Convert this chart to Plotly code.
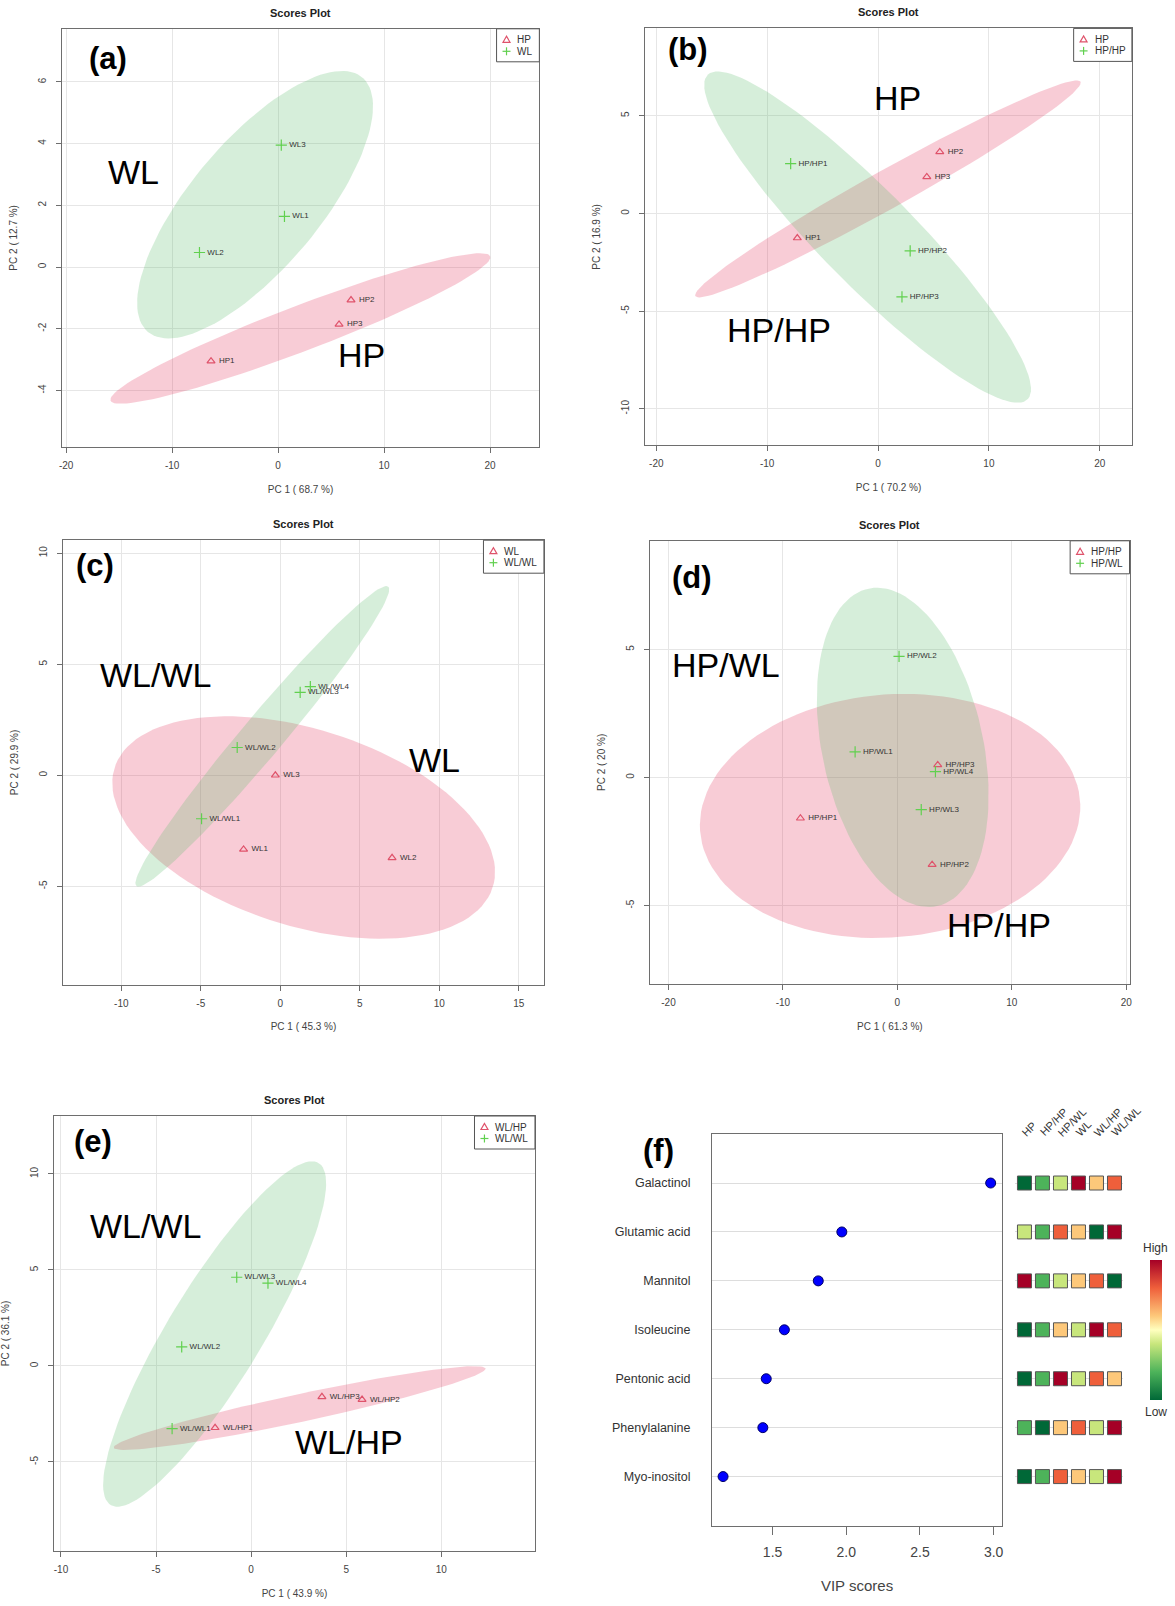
import numpy as np
import plotly.graph_objects as go

W, H = 1175, 1606
FONT = "Liberation Sans, Arial, sans-serif"

# ---------------- data ----------------
# (a) HP vs WL
A_PCT = (68.7, 12.7)
A_G1_NAME = "HP"
A_G1_LAB = ["HP1", "HP2", "HP3"]
A_G1_X = [-6.33, 6.88, 5.75]
A_G1_Y = [-3.05, -1.07, -1.86]
A_G2_NAME = "WL"
A_G2_LAB = ["WL1", "WL2", "WL3"]
A_G2_X = [0.60, -7.42, 0.30]
A_G2_Y = [1.64, 0.47, 3.95]

# (b) HP vs HP/HP
B_PCT = (70.2, 16.9)
B_G1_NAME = "HP"
B_G1_LAB = ["HP1", "HP2", "HP3"]
B_G1_X = [-7.28, 5.57, 4.40]
B_G1_Y = [-1.26, 3.15, 1.87]
B_G2_NAME = "HP/HP"
B_G2_LAB = ["HP/HP1", "HP/HP2", "HP/HP3"]
B_G2_X = [-7.88, 2.90, 2.16]
B_G2_Y = [2.55, -1.92, -4.27]

# (c) WL vs WL/WL
C_PCT = (45.3, 29.9)
C_G1_NAME = "WL"
C_G1_LAB = ["WL1", "WL2", "WL3"]
C_G1_X = [-2.31, 7.03, -0.31]
C_G1_Y = [-3.34, -3.72, 0.00]
C_G2_NAME = "WL/WL"
C_G2_LAB = ["WL/WL1", "WL/WL2", "WL/WL3", "WL/WL4"]
C_G2_X = [-4.95, -2.71, 1.25, 1.89]
C_G2_Y = [-1.96, 1.25, 3.73, 3.99]

# (d) HP/HP vs HP/WL
D_PCT = (61.3, 20)
D_G1_NAME = "HP/HP"
D_G1_LAB = ["HP/HP1", "HP/HP2", "HP/HP3"]
D_G1_X = [-8.47, 3.04, 3.53]
D_G1_Y = [-1.59, -3.40, 0.49]
D_G2_NAME = "HP/WL"
D_G2_LAB = ["HP/WL1", "HP/WL2", "HP/WL3", "HP/WL4"]
D_G2_X = [-3.69, 0.15, 2.09, 3.33]
D_G2_Y = [1.00, 4.73, -1.25, 0.23]

# (e) WL/HP vs WL/WL
E_PCT = (43.9, 36.1)
E_G1_NAME = "WL/HP"
E_G1_LAB = ["WL/HP1", "WL/HP2", "WL/HP3"]
E_G1_X = [-1.895, 5.835, 3.725]
E_G1_Y = [-3.22, -1.75, -1.61]
E_G2_NAME = "WL/WL"
E_G2_LAB = ["WL/WL1", "WL/WL2", "WL/WL3", "WL/WL4"]
E_G2_X = [-4.155, -3.65, -0.756, 0.887]
E_G2_Y = [-3.27, 0.99, 4.62, 4.31]

# (f) VIP scores + relative concentration heat strip
METABOLITES = ["Galactinol", "Glutamic acid", "Mannitol", "Isoleucine",
               "Pentonic acid", "Phenylalanine", "Myo-inositol"]
VIP = [2.98, 1.97, 1.81, 1.58, 1.457, 1.434, 1.164]
HM_GROUPS = ["HP", "HP/HP", "HP/WL", "WL", "WL/HP", "WL/WL"]
HM_LEVEL = [
    [1, 2, 3, 6, 4, 5],
    [3, 2, 5, 4, 1, 6],
    [6, 2, 3, 4, 5, 1],
    [1, 2, 4, 3, 6, 5],
    [1, 2, 6, 3, 5, 4],
    [2, 1, 4, 5, 3, 6],
    [1, 2, 5, 4, 3, 6],
]
VIP_TICKS = [1.5, 2.0, 2.5, 3.0]

# ---------------- helpers ----------------
def fx(px):
    return px / W

def fy(py):
    return 1 - py / H

def ellipse(xs, ys, level=0.95, n=120):
    pts = np.column_stack([xs, ys])
    mu = pts.mean(axis=0)
    cov = np.cov(pts.T)
    t = np.sqrt(-2 * np.log(1 - level))
    vals, vecs = np.linalg.eigh(cov)
    th = np.linspace(0, 2 * np.pi, n)
    circ = np.vstack([np.cos(th), np.sin(th)])
    e = vecs @ np.diag(np.sqrt(np.maximum(vals, 0))) @ circ * t
    return mu[0] + e[0], mu[1] + e[1]

def note(x, y, text, size, color="black", **kw):
    d = dict(x=fx(x), y=fy(y), xref="paper", yref="paper", text=text, showarrow=False,
             xanchor="center", yanchor="middle",
             font=dict(size=size, color=color, family=FONT))
    d.update(kw)
    return d

CHAR_W = {"H": 0.722, "P": 0.667, "W": 0.944, "L": 0.556, "/": 0.278}

def text_w(s, size):
    return sum(CHAR_W.get(ch, 0.556) for ch in s) * size

PINK = "#DF536B"
GREEN = "#61D04F"
PINK_FILL = "rgba(227,51,91,0.25)"
GREEN_FILL = "rgba(91,187,107,0.25)"
BOXC = "#6e6e6e"

panels = [
    dict(data=(A_G1_NAME, A_G1_LAB, A_G1_X, A_G1_Y, A_G2_NAME, A_G2_LAB, A_G2_X, A_G2_Y), pct=A_PCT,
         box=(59.0, 28.8, 539.1, 446.9), xr=(-20.42, 24.65), yr=(-5.83, 7.72),
         xt=[-20, -10, 0, 10, 20], yt=[-4, -2, 0, 2, 4, 6],
         tag="(a)", tagpos=(106, 58), g1pos=(360, 355), g2pos=(131, 172)),
    dict(data=(B_G1_NAME, B_G1_LAB, B_G1_X, B_G1_Y, B_G2_NAME, B_G2_LAB, B_G2_X, B_G2_Y), pct=B_PCT,
         box=(645.5, 28.4, 1134.7, 445.3), xr=(-21.0, 22.9), yr=(-11.87, 9.47),
         xt=[-20, -10, 0, 10, 20], yt=[-10, -5, 0, 5],
         tag="(b)", tagpos=(689, 49), g1pos=(899, 98), g2pos=(780, 330)),
    dict(data=(C_G1_NAME, C_G1_LAB, C_G1_X, C_G1_Y, C_G2_NAME, C_G2_LAB, C_G2_X, C_G2_Y), pct=C_PCT,
         box=(60.4, 540.2, 543.7, 984.8), xr=(-13.66, 16.58), yr=(-9.44, 10.59),
         xt=[-10, -5, 0, 5, 10, 15], yt=[-5, 0, 5, 10],
         tag="(c)", tagpos=(92, 565), g1pos=(434, 760), g2pos=(153, 675)),
    dict(data=(D_G1_NAME, D_G1_LAB, D_G1_X, D_G1_Y, D_G2_NAME, D_G2_LAB, D_G2_X, D_G2_Y), pct=D_PCT,
         box=(650.6, 540.8, 1132.3, 984.0), xr=(-21.59, 20.29), yr=(-8.06, 9.24),
         xt=[-20, -10, 0, 10, 20], yt=[-5, 0, 5],
         tag="(d)", tagpos=(693, 577), g1pos=(1001, 925), g2pos=(727, 665)),
    dict(data=(E_G1_NAME, E_G1_LAB, E_G1_X, E_G1_Y, E_G2_NAME, E_G2_LAB, E_G2_X, E_G2_Y), pct=E_PCT,
         box=(51.2, 1116.0, 534.7, 1551.0), xr=(-10.37, 14.93), yr=(-9.64, 13.02),
         xt=[-10, -5, 0, 5, 10], yt=[-5, 0, 5, 10],
         tag="(e)", tagpos=(90, 1141), g1pos=(348, 1442), g2pos=(143, 1226)),
]

fig = go.Figure()
layout = dict(width=W, height=H, margin=dict(l=0, r=0, t=0, b=0),
              paper_bgcolor="white", plot_bgcolor="white", showlegend=False,
              font=dict(family=FONT, color="#333"), hovermode=False)
annotations = []
shapes = []

def fmt(v):
    return ("%g" % v)

for i, p in enumerate(panels, start=1):
    sfx = "" if i == 1 else str(i)
    xa, ya = "x" + sfx, "y" + sfx
    g1n, g1l, g1x, g1y, g2n, g2l, g2x, g2y = p["data"]
    # 95% confidence ellipses computed from the group scores
    for gx, gy, fc in ((g1x, g1y, PINK_FILL), (g2x, g2y, GREEN_FILL)):
        ex, ey = ellipse(gx, gy)
        fig.add_trace(go.Scatter(x=ex, y=ey, mode="lines", fill="toself", fillcolor=fc,
                                 line=dict(width=0), showlegend=False, hoverinfo="skip",
                                 xaxis=xa, yaxis=ya))
    # sample labels
    for gx, gy, gl in ((g1x, g1y, g1l), (g2x, g2y, g2l)):
        fig.add_trace(go.Scatter(x=gx, y=gy, mode="markers+text", text=gl,
                                 textposition="middle right",
                                 marker=dict(size=11, color="rgba(0,0,0,0)"),
                                 textfont=dict(size=8, color="#333", family=FONT),
                                 showlegend=False, xaxis=xa, yaxis=ya))
    # points
    fig.add_trace(go.Scatter(x=g1x, y=g1y, mode="markers", name=g1n,
                             marker=dict(symbol="triangle-up-open", size=7, color=PINK,
                                         line=dict(width=1.2, color=PINK)),
                             xaxis=xa, yaxis=ya))
    fig.add_trace(go.Scatter(x=g2x, y=g2y, mode="markers", name=g2n,
                             marker=dict(symbol="cross-thin-open", size=8, color=GREEN,
                                         line=dict(width=1.2, color=GREEN)),
                             xaxis=xa, yaxis=ya))
    L, T, R, B = p["box"]
    common = dict(showline=True, mirror=True, linecolor=BOXC, linewidth=1.3,
                  ticks="outside", ticklen=5, tickcolor=BOXC, tickwidth=1,
                  showgrid=True, gridcolor="#e6e6e6", gridwidth=1, zeroline=False,
                  tickfont=dict(size=10, color="#444", family=FONT), fixedrange=True)
    layout["xaxis" + sfx] = dict(common, domain=[fx(L), fx(R)], range=list(p["xr"]),
                                 anchor=ya, tickvals=p["xt"], ticktext=[fmt(v) for v in p["xt"]],
                                 ticklabelstandoff=4,
                                 title=dict(text="PC 1 ( %s %%)" % fmt(p["pct"][0]), standoff=15,
                                            font=dict(size=10, color="#444", family=FONT)))
    layout["yaxis" + sfx] = dict(common, domain=[fy(B), fy(T)], range=list(p["yr"]),
                                 anchor=xa, tickvals=p["yt"], ticktext=[fmt(v) for v in p["yt"]],
                                 tickangle=-90, ticklabelstandoff=6,
                                 title=dict(text="PC 2 ( %s %%)" % fmt(p["pct"][1]), standoff=17,
                                            font=dict(size=10, color="#444", family=FONT)))
    # compact R-style legend box (top-right corner of the plot)
    lw = 20 + max(text_w(g1n, 10), text_w(g2n, 10)) + 8
    lh = 33
    lx0 = R - lw
    shapes.append(dict(type="rect", xref="paper", yref="paper", x0=fx(lx0), x1=fx(R),
                       y0=fy(T), y1=fy(T + lh), line=dict(color="#555", width=1),
                       fillcolor="white", layer="above"))
    r1, r2 = T + 11, T + 22.5
    cx = lx0 + 10
    tri = "M %f,%f L %f,%f L %f,%f Z" % (fx(cx - 3.5), fy(r1 + 2.5), fx(cx + 3.5), fy(r1 + 2.5),
                                           fx(cx), fy(r1 - 3.5))
    shapes.append(dict(type="path", xref="paper", yref="paper", path=tri,
                       line=dict(color=PINK, width=1.2), layer="above"))
    shapes.append(dict(type="line", xref="paper", yref="paper", x0=fx(cx - 4), x1=fx(cx + 4),
                       y0=fy(r2), y1=fy(r2), line=dict(color=GREEN, width=1.2), layer="above"))
    shapes.append(dict(type="line", xref="paper", yref="paper", x0=fx(cx), x1=fx(cx),
                       y0=fy(r2 - 4), y1=fy(r2 + 4), line=dict(color=GREEN, width=1.2), layer="above"))
    annotations.append(note(lx0 + 19, r1, g1n, 10, "#333", xanchor="left"))
    annotations.append(note(lx0 + 19, r2, g2n, 10, "#333", xanchor="left"))

    annotations.append(note((L + R) / 2, T - 16, "<b>Scores Plot</b>", 11, "#222"))
    annotations.append(note(p["tagpos"][0], p["tagpos"][1], "<b>%s</b>" % p["tag"], 31))
    annotations.append(note(p["g1pos"][0], p["g1pos"][1], g1n, 34))
    annotations.append(note(p["g2pos"][0], p["g2pos"][1], g2n, 34))

# ---------------- panel (f) ----------------
FL, FT, FR, FB = 712.8, 1134.1, 1004.0, 1525.5
rows = [len(METABOLITES) - k for k in range(len(METABOLITES))]
fig.add_trace(go.Scatter(x=VIP, y=rows, mode="markers", showlegend=False,
                         marker=dict(symbol="circle", size=10, color="#0000FF",
                                     line=dict(width=1, color="#000066")),
                         xaxis="x6", yaxis="y6"))
layout["xaxis6"] = dict(domain=[fx(FL), fx(FR)], range=[1.09, 3.056], anchor="y6",
                        showline=True, mirror=True, linecolor=BOXC, linewidth=1.3,
                        ticks="outside", ticklen=8, tickcolor=BOXC, showgrid=False, zeroline=False,
                        tickvals=VIP_TICKS, ticktext=["%.1f" % v for v in VIP_TICKS],
                        tickfont=dict(size=14, color="#444", family=FONT), ticklabelstandoff=6,
                        title=dict(text="VIP scores", standoff=21,
                                   font=dict(size=15, color="#444", family=FONT)),
                        fixedrange=True)
layout["yaxis6"] = dict(domain=[fy(FB), fy(FT)], range=[0, 8], anchor="x6",
                        showline=True, mirror=True, linecolor=BOXC, linewidth=1.3,
                        ticks="", showgrid=True, gridcolor="#dddddd", gridwidth=1, zeroline=False,
                        tickvals=rows, ticktext=METABOLITES, ticklabelstandoff=18,
                        tickfont=dict(size=12.5, color="#333", family=FONT), fixedrange=True)

# heat strip
HX0, HDX = 1026.7, 18.1
hx, hy, hc = [], [], []
for r, lev in zip(rows, HM_LEVEL):
    for c, v in enumerate(lev):
        hx.append(c)
        hy.append(r)
        hc.append(v)
RDYLGN = [[0.0, "#006837"], [0.2, "#4DB35A"], [0.4, "#C8E67C"], [0.5, "#FFFFBF"],
          [0.6, "#FDC87A"], [0.8, "#EF5F3B"], [1.0, "#A50026"]]
fig.add_trace(go.Scatter(x=hx, y=hy, mode="markers", showlegend=False,
                         marker=dict(symbol="square", size=14, color=hc, cmin=1, cmax=6,
                                     colorscale=RDYLGN, line=dict(width=1, color="#555"),
                                     colorbar=dict(x=fx(1153), xanchor="left", y=fy(1330.4),
                                                   yanchor="middle", len=140, lenmode="pixels",
                                                   thickness=12, thicknessmode="pixels",
                                                   showticklabels=False, ticks="", outlinewidth=0,
                                                   xpad=0, ypad=0)),
                         xaxis="x7", yaxis="y6"))
layout["xaxis7"] = dict(domain=[fx(HX0 - HDX / 2), fx(HX0 + HDX * (len(HM_GROUPS) - 0.5))],
                        range=[-0.5, len(HM_GROUPS) - 0.5], anchor="y6", visible=False,
                        fixedrange=True)
for c, g in enumerate(HM_GROUPS):
    annotations.append(note(HX0 + HDX * c - 8, 1141, g, 11, "#333",
                            textangle=-45, xanchor="left", yanchor="bottom"))
annotations.append(note(1158.6, 1247.6, "High", 12, "#333"))
annotations.append(note(1158.6, 1411.6, "Low", 12, "#333"))
annotations.append(note(659, 1150, "<b>(f)</b>", 31))

layout["annotations"] = annotations
layout["shapes"] = shapes
fig.update_layout(**layout)
fig.write_html("out.html", post_script="document.body.style.margin='0';",
               config={"displayModeBar": False})
